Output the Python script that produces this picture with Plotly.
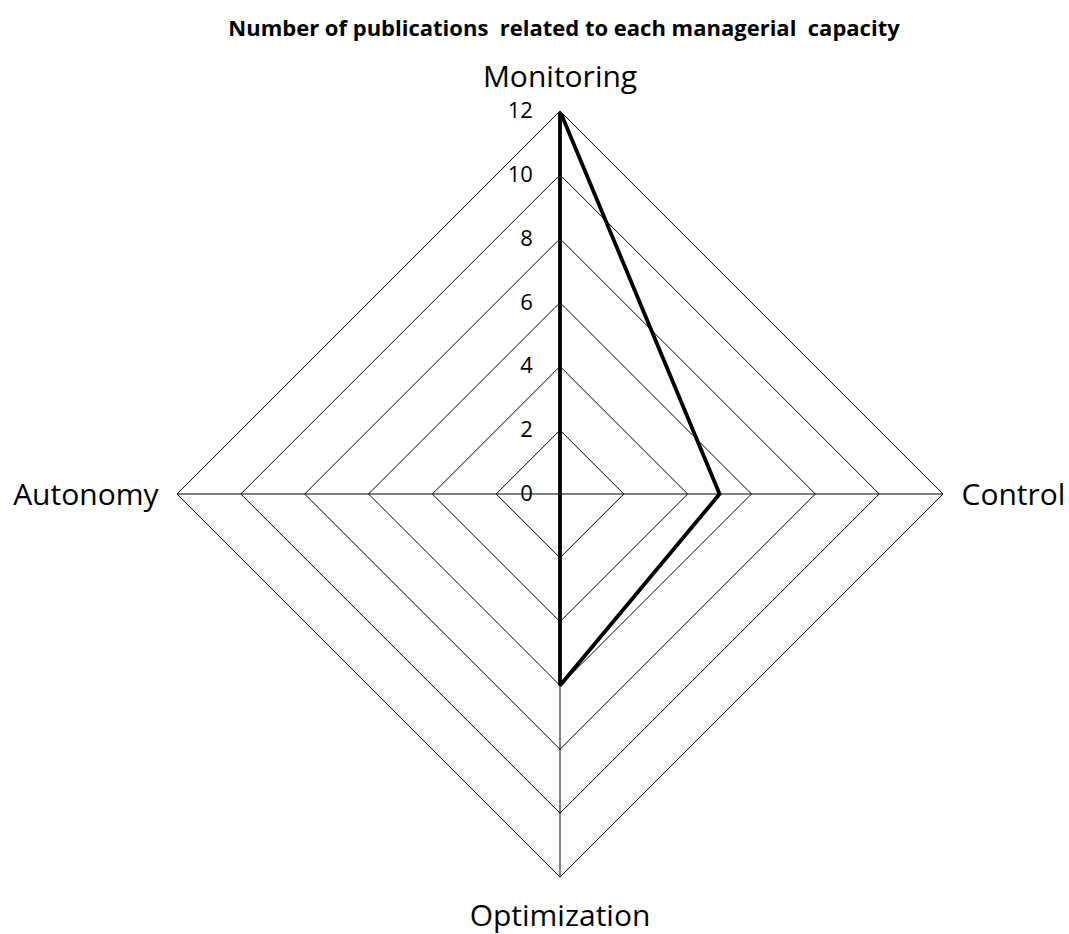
import plotly.graph_objects as go

categories = ["Monitoring", "Control", "Optimization", "Autonomy"]
values = [12, 5, 6, 0]
radial_ticks = [0, 2, 4, 6, 8, 10, 12]

theta = categories + [categories[0]]
r = values + [values[0]]

W, H = 1069, 934

fig = go.Figure()
fig.add_trace(go.Scatterpolar(
    r=r, theta=theta, mode="lines",
    line=dict(color="black", width=3.8),
    showlegend=False, hoverinfo="skip",
))

fig.update_layout(
    width=W, height=H,
    paper_bgcolor="white", plot_bgcolor="white",
    margin=dict(l=0, r=0, t=0, b=0),
    font=dict(family="Open Sans, DejaVu Sans, sans-serif", color="black"),
    title=dict(
        text="<b>Number of publications  related to each managerial  capacity</b>",
        x=564 / W, xanchor="center", y=1 - 28 / H, yanchor="middle",
        font=dict(size=22, color="black", family="Open Sans, sans-serif"),
    ),
    polar=dict(
        domain=dict(x=[177 / W, 943 / W],
                    y=[(H - 877) / H, (H - 111) / H]),
        bgcolor="white",
        gridshape="linear",
        radialaxis=dict(
            range=[0, 12], tickvals=radial_ticks, ticktext=[str(t) for t in radial_ticks],
            angle=90, side="counterclockwise", tickangle=90,
            showline=False, showgrid=True, gridcolor="black", gridwidth=1,
            ticks="outside", ticklen=19, tickcolor="rgba(0,0,0,0)",
            tickfont=dict(size=22, color="black"),
        ),
        angularaxis=dict(
            direction="clockwise", rotation=90,
            showline=True, linecolor="black", linewidth=1,
            showgrid=True, gridcolor="black", gridwidth=1,
            ticks="outside", ticklen=12, tickcolor="rgba(0,0,0,0)",
            tickfont=dict(size=30, color="black"),
        ),
    ),
)

fig.write_html(
    "out.html",
    config={"displayModeBar": False},
    post_script="document.body.style.margin='0';document.body.style.overflow='hidden';",
)
